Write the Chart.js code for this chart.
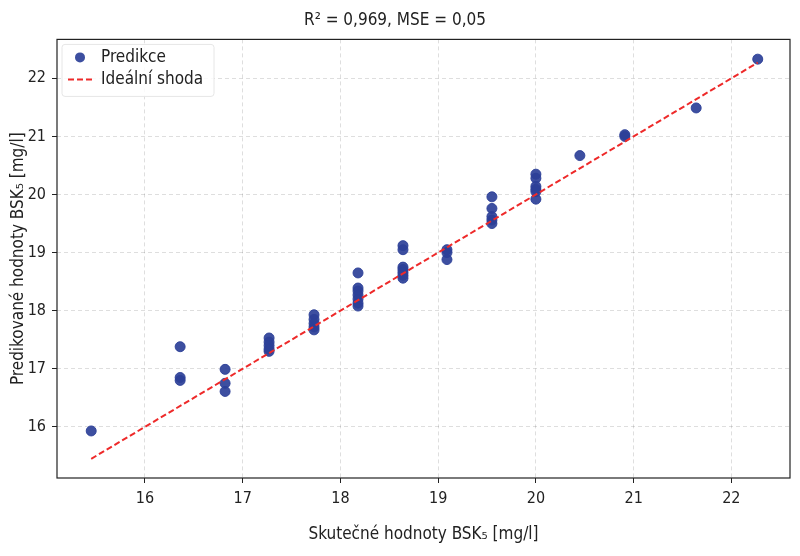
<!DOCTYPE html>
<html>
<head>
<meta charset="utf-8">
<script src="https://cdn.jsdelivr.net/npm/chart.js@4"></script>
<style>
  html, body { margin: 0; padding: 0; background: #fff; }
  #wrap { width: 800px; height: 556px; }
</style>
</head>
<body>
<div id="wrap"><canvas id="scatter" width="800" height="556"></canvas></div>
<script>
// Actual vs predicted BSK5 values
const actualValues = [
  15.45,
  16.36, 16.36, 16.36,
  16.82, 16.82, 16.82,
  17.27, 17.27, 17.27, 17.27, 17.27,
  17.73, 17.73, 17.73, 17.73, 17.73,
  18.18, 18.18, 18.18, 18.18, 18.18, 18.18, 18.18,
  18.64, 18.64, 18.64, 18.64, 18.64, 18.64, 18.64,
  19.09, 19.09, 19.09,
  19.55, 19.55, 19.55, 19.55, 19.55,
  20.0, 20.0, 20.0, 20.0, 20.0, 20.0,
  20.45,
  20.91, 20.91,
  21.64,
  22.27
];
const predictedValues = [
  15.93,
  17.38, 16.85, 16.80,
  16.99, 16.75, 16.61,
  17.53, 17.46, 17.40, 17.34, 17.30,
  17.93, 17.85, 17.78, 17.72, 17.67,
  18.65, 18.39, 18.34, 18.27, 18.20, 18.13, 18.08,
  19.12, 19.05, 18.75, 18.71, 18.66, 18.61, 18.56,
  19.05, 19.00, 18.88,
  19.96, 19.76, 19.62, 19.56, 19.50,
  20.35, 20.28, 20.14, 20.09, 20.05, 19.92,
  20.67,
  21.03, 21.00,
  21.49,
  22.33
];
const idealLine = [15.45, 22.27];
const xTicks = [16, 17, 18, 19, 20, 21, 22];
const yTicks = [16, 17, 18, 19, 20, 21, 22];

const FONT = "'Liberation Sans Narrow', 'DejaVu Sans Condensed', sans-serif";
const pointColor = "rgba(44, 64, 152, 0.92)";
const lineColor = "#ee2a2a";

// frame + legend drawn inside the plot area
const framePlugin = {
  id: "frame",
  afterDraw(chart) {
    const { ctx, chartArea: a } = chart;
    ctx.save();
    ctx.strokeStyle = "#222";
    ctx.lineWidth = 1.2;
    ctx.strokeRect(a.left, a.top, a.right - a.left, a.bottom - a.top);

    // legend box
    ctx.fillStyle = "rgba(255,255,255,0.85)";
    ctx.strokeStyle = "#e6e6e6";
    ctx.lineWidth = 1;
    ctx.beginPath();
    ctx.roundRect(a.left + 5, a.top + 5, 152, 52, 3);
    ctx.fill();
    ctx.stroke();

    ctx.fillStyle = pointColor;
    ctx.beginPath();
    ctx.arc(a.left + 23, a.top + 18, 5, 0, Math.PI * 2);
    ctx.fill();

    ctx.strokeStyle = lineColor;
    ctx.lineWidth = 2;
    ctx.setLineDash([6, 3]);
    ctx.beginPath();
    ctx.moveTo(a.left + 11, a.top + 40);
    ctx.lineTo(a.left + 36, a.top + 40);
    ctx.stroke();
    ctx.setLineDash([]);

    ctx.fillStyle = "#222";
    ctx.font = "17px " + FONT;
    ctx.textBaseline = "middle";
    ctx.fillText("Predikce", a.left + 44, a.top + 18);
    ctx.fillText("Ideální shoda", a.left + 44, a.top + 40);
    ctx.restore();
  }
};

const scatterCtx = document.getElementById("scatter").getContext("2d");

const scatterChart = new Chart(scatterCtx, {
  type: "scatter",
  data: {
    datasets: [
      {
        label: "Predikce",
        data: actualValues.map((x, i) => ({ x: x, y: predictedValues[i] })),
        backgroundColor: pointColor,
        borderColor: pointColor,
        pointRadius: 5,
        pointHoverRadius: 5,
        order: 2,
      },
      {
        label: "Ideální shoda",
        type: "line",
        data: idealLine.map((v) => ({ x: v, y: v })),
        borderColor: lineColor,
        borderWidth: 2,
        borderDash: [6, 3],
        pointRadius: 0,
        fill: false,
        order: 1,
      },
    ],
  },
  options: {
    responsive: false,
    animation: false,
    layout: { padding: { top: 0, right: 10, left: 0, bottom: 0 } },
    scales: {
      x: {
        type: "linear",
        min: 15.1,
        max: 22.6,
        afterBuildTicks: (scale) => {
          scale.ticks = xTicks.map((v) => ({ value: v }));
        },
        afterFit: (scale) => { scale.height = 78; },
        grid: {
          color: "rgba(0,0,0,0.13)",
          tickColor: "#222",
          tickLength: 5,
          drawOnChartArea: true,
        },
        border: { display: false, dash: [4, 3] },
        ticks: {
          color: "#222",
          font: { family: FONT, size: 16 },
          padding: 6,
        },
        title: {
          display: true,
          text: "Skutečné hodnoty BSK₅ [mg/l]",
          color: "#222",
          font: { family: FONT, size: 17 },
          padding: { top: 0, bottom: 11 },
        },
      },
      y: {
        type: "linear",
        min: 15.12,
        max: 22.67,
        afterBuildTicks: (scale) => {
          scale.ticks = yTicks.map((v) => ({ value: v }));
        },
        afterFit: (scale) => { scale.width = 57; },
        grid: {
          color: "rgba(0,0,0,0.13)",
          tickColor: "#222",
          tickLength: 5,
        },
        border: { display: false, dash: [4, 3] },
        ticks: {
          color: "#222",
          font: { family: FONT, size: 16 },
          padding: 6,
        },
        title: {
          display: true,
          text: "Predikované hodnoty BSK₅ [mg/l]",
          color: "#222",
          font: { family: FONT, size: 17 },
          padding: { top: 8, bottom: 0 },
        },
      },
    },
    plugins: {
      legend: { display: false },
      tooltip: { enabled: false },
      title: {
        display: true,
        text: "R² = 0,969, MSE = 0,05",
        color: "#222",
        font: { family: FONT, size: 17, weight: "normal" },
        padding: { top: 10, bottom: 9 },
      },
    },
  },
  plugins: [framePlugin],
});
</script>
</body>
</html>
